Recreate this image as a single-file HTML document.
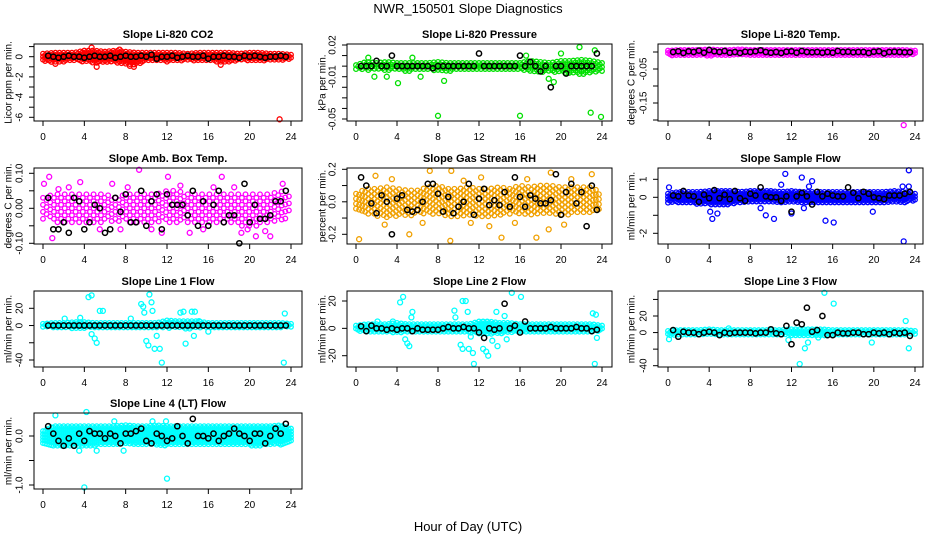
<!DOCTYPE html>
<html><head><meta charset="utf-8"><title>NWR_150501 Slope Diagnostics</title>
<style>
html,body{margin:0;padding:0;background:#fff;}
svg{display:block;font-family:"Liberation Sans",sans-serif;}
</style></head>
<body>
<svg id="chart" width="936" height="540" viewBox="0 0 936 540" xmlns="http://www.w3.org/2000/svg">
<rect x="0" y="0" width="936" height="540" fill="#fff"/>
<text x="468" y="13" text-anchor="middle" font-size="13">NWR_150501  Slope Diagnostics</text>
<text x="468" y="531" text-anchor="middle" font-size="13">Hour of Day (UTC)</text>
</svg>
<script>
// ---------- data ----------
const xTicks = [0,4,8,12,16,20,24];

const co2Lo = [-0.4,-0.6,-0.5,-0.4,-0.5,-0.7,-0.6,-0.6,-0.8,-0.8,-0.4,-0.4,-0.5,-0.4,-0.4,-0.5,-0.4,-0.6,-0.5,-0.4,-0.4,-0.4,-0.4,-0.4,-0.3];
const co2Hi = [0.3,0.4,0.4,0.4,0.6,0.6,0.5,0.6,0.5,0.4,0.4,0.4,0.4,0.4,0.3,0.4,0.4,0.4,0.4,0.3,0.4,0.4,0.3,0.3,0.2];
const co2OutX = [4.7,5.2,8.8,17.2,22.9,1.2,7.4,8.4];
const co2OutY = [0.9,-1.0,-1.0,-0.8,-6.2,-0.7,0.7,-0.9];
const co2Black = [0.1,0,-0.1,0,0.1,0,0,-0.1,0,0.1, 0,0,0.1,-0.1,0,0.1,0,0,0.1,0, 0.2,-0.2,0,0,0.1,-0.1,0,0.1,0,0, 0.1,-0.2,0,0,0.1,0,0,-0.1,0.1,0, 0.1,0,-0.1,0,0,0.1,0];

const pressLo = [-0.003,-0.004,-0.004,-0.004,-0.004,-0.005,-0.004,-0.004,-0.005,-0.005,-0.003,-0.003,-0.004,-0.003,-0.003,-0.004,-0.004,-0.005,-0.006,-0.006,-0.006,-0.007,-0.008,-0.007,-0.005];
const pressHi = [0.001,0.004,0.003,0.004,0.003,0.003,0.003,0.003,0.004,0.003,0.003,0.003,0.003,0.003,0.003,0.003,0.003,0.005,0.004,0.003,0.005,0.005,0.006,0.005,0.003];
const pressOutX = [1.2,1.8,4.1,8.0,8.6,16.0,16.6,19.3,20.0,21.8,22.9,23.9,23.3,18.8,6.3,3.0,5.5];
const pressOutY = [0.008,-0.01,-0.016,-0.047,-0.014,-0.047,0.01,-0.015,0.012,0.018,-0.044,-0.048,0.015,-0.012,-0.01,-0.01,0.008];
const pressBlack = [0,0,0,0.005,0,0,0.01,0,0,0, 0,0,0,0,-0.002,0,0,0,0,0, 0,0,0,0.012,0,0,0,0,0,0, 0,0.01,0,0.004,0,-0.005,0,-0.02,0,0, -0.007,0,0,0,0,0,0.012];

const tempLo = [-0.01,-0.012,-0.012,-0.01,-0.012,-0.01,-0.01,-0.01,-0.012,-0.012,-0.01,-0.01,-0.01,-0.01,-0.01,-0.012,-0.01,-0.01,-0.01,-0.01,-0.01,-0.012,-0.012,-0.01,-0.008];
const tempHi = [0.004,0.006,0.006,0.006,0.008,0.006,0.006,0.008,0.006,0.006,0.006,0.006,0.006,0.006,0.006,0.006,0.006,0.006,0.006,0.006,0.006,0.006,0.006,0.006,0.004];
const tempOutX = [22.9];
const tempOutY = [-0.215];
const tempBlack = [0,0.002,-0.003,0.002,0,0.004,-0.002,0.006,0.002,0, 0.003,-0.002,0,-0.003,0.001,0,0.002,0.005,0,-0.002, 0,-0.003,0.001,0.002,-0.002,0.003,0,-0.001,0,-0.002, 0,-0.002,0.003,0,0.001,-0.001,0,0,-0.003,0.001, 0.002,-0.004,0,0.001,0,-0.001,-0.001];

const ambLo = [-0.03,-0.04,-0.04,-0.05,-0.04,-0.04,-0.04,-0.04,-0.04,-0.04,-0.04,-0.04,-0.04,-0.04,-0.04,-0.04,-0.04,-0.04,-0.04,-0.05,-0.05,-0.05,-0.04,-0.04,-0.02];
const ambHi = [0.03,0.04,0.04,0.04,0.04,0.04,0.04,0.03,0.04,0.04,0.04,0.04,0.05,0.05,0.04,0.04,0.04,0.04,0.04,0.04,0.04,0.04,0.04,0.05,0.03];
const ambOutX = [0.1,0.6,0.9,3.6,9.3,12.1,17.3,19.2,20.6,22.0,23.2,6.7,11.5,14.2,2.5,5.5,8.2,10.5,13.3,15.5,18.5,21.5,1.5,7.5,16.5,19.8];
const ambOutY = [0.07,0.09,-0.085,0.075,0.11,0.09,0.09,-0.07,-0.08,-0.08,0.07,0.07,-0.07,-0.07,0.06,-0.06,0.06,-0.06,0.065,-0.06,0.06,-0.065,0.055,-0.06,0.06,-0.06];
const ambBlack = [0.03,-0.06,-0.06,-0.04,-0.07,0.03,0.02,-0.06,-0.04,0.01, 0,-0.07,-0.06,0.03,-0.01,0.04,-0.04,-0.04,0.05,-0.05, 0.02,0.04,-0.06,0.04,0.01,0.01,0.01,-0.02,0.05,-0.05, 0.02,-0.05,0.01,0.05,-0.04,-0.02,-0.02,-0.1,0.07,-0.04, 0.01,-0.03,-0.03,-0.02,0.02,0.02,0.05];

const rhLo = [-0.06,-0.08,-0.09,-0.1,-0.09,-0.09,-0.08,-0.08,-0.08,-0.09,-0.09,-0.08,-0.09,-0.1,-0.09,-0.08,-0.08,-0.09,-0.08,-0.08,-0.08,-0.08,-0.07,-0.08,-0.05];
const rhHi = [0.05,0.08,0.08,0.09,0.08,0.07,0.07,0.09,0.1,0.08,0.08,0.09,0.08,0.08,0.09,0.08,0.1,0.09,0.1,0.1,0.09,0.09,0.09,0.09,0.05];
const rhOutX = [0.3,9.2,9.3,17.6,14.2,5.2,7.2,1.9,19.0,23.0,12.2,18.8,3.5,6.5,10.5,13.0,15.5,21.0,2.8,11.2,16.7,20.3];
const rhOutY = [-0.23,-0.24,0.19,-0.22,-0.22,-0.2,0.19,0.16,0.18,0.17,0.15,-0.17,0.14,-0.13,0.13,-0.15,-0.13,0.14,-0.14,-0.13,0.14,-0.14];
const rhBlack = [0.15,0.1,-0.01,-0.07,0.04,0,-0.2,0.02,0.04,-0.05, -0.06,-0.05,0,0.11,0.11,0.05,-0.06,0.03,-0.07,-0.03, 0,0.11,-0.08,0.02,0.08,-0.02,0.01,-0.02,0.06,-0.03, 0.15,0.03,-0.03,0.04,0.02,-0.01,-0.01,0.01,0.17,-0.08, 0.06,0.11,-0.01,0.06,-0.15,0.1,-0.05];

const sampleLo = [-0.3,-0.3,-0.3,-0.4,-0.4,-0.4,-0.4,-0.3,-0.3,-0.3,-0.3,-0.3,-0.3,-0.3,-0.3,-0.3,-0.3,-0.3,-0.3,-0.3,-0.3,-0.3,-0.3,-0.3,-0.2];
const sampleHi = [0.2,0.3,0.3,0.3,0.35,0.35,0.35,0.3,0.35,0.35,0.35,0.3,0.35,0.3,0.3,0.3,0.3,0.3,0.3,0.3,0.3,0.3,0.35,0.3,0.2];
const sampleOutX = [4.3,4.1,4.8,9.5,10.3,11.4,12.0,13.0,14.0,15.3,16.1,19.9,22.9,23.4,23.4,9.0,13.2,22.8,0.1,11.0,13.7];
const sampleOutY = [-1.2,-0.8,-0.9,-1.0,-1.2,1.3,-0.9,1.1,0.9,-1.3,-1.4,-0.8,-2.45,1.5,0.6,-0.6,-0.6,0.6,0.55,0.7,0.6];
const sampleBlack = [0.1,0.05,0.35,0.1,0.05,-0.25,0.15,-0.05,0.4,-0.05, 0.15,-0.1,0.35,-0.05,-0.2,0.2,0.1,0.55,0.05,0, 0,-0.2,0.05,-0.8,0.05,0.25,0.05,-0.4,0.3,0.05, 0.2,0.1,0.05,0.05,0.55,0.25,-0.05,0.3,0.2,0, -0.05,-0.1,0.1,0.1,0.1,0.2,0.3];

const line1Lo = [-2,-3,-3,-4,-3,-3,-3,-3,-3,-3,-3,-3,-3,-3,-4,-3,-3,-3,-3,-3,-3,-3,-3,-3,-2];
const line1Hi = [2,3,3,4,4,3,3,3,3,3,3,3,6,5,5,5,3,3,3,3,3,3,3,3,2];
const line1OutX = [4.4,4.7,4.7,5.0,5.2,5.5,5.8,3.6,9.5,9.7,9.8,10.0,10.2,10.5,10.6,10.8,10.3,11.0,11.3,11.5,13.3,13.6,13.8,14.4,14.7,14.6,15.1,16.0,23.3,23.4,8.5,2.1];
const line1OutY = [33,35,-10,-15,-20,17,17,9,25,22,15,-18,-23,27,17,-27,36,-12,-27,-43,15,16,-21,16,16,-12,5,-7,-43,14,8,8];
const line1Black = [0,0,0,0,0,0,0,0,0,0, 0,0,0,0,0,0,0,0,0,0, 0,0,0,0,0,0,0,0,0,0, 0,0,0,0,0,0,0,0,0,0, 0,0,0,0,0,0,0];

const line2Lo = [-2,-3,-3,-3,-3,-3,-3,-3,-3,-3,-3,-3,-4,-4,-4,-3,-3,-3,-3,-3,-3,-3,-3,-3,-2];
const line2Hi = [2,3,3,3,4,3,3,3,3,3,3,3,5,5,4,4,3,3,3,3,3,3,3,3,2];
const line2OutX = [4.3,4.6,4.8,5.0,5.2,5.5,5.4,9.6,9.7,10.2,10.4,10.7,10.9,10.4,11.0,11.2,11.4,11.5,12.4,12.7,12.9,13.3,13.7,13.8,14.5,14.7,15.2,16.1,23.1,23.4,23.3,23.5,3.6,2.1];
const line2OutY = [19,23,-8,-11,-13,12,8,13,8,-12,20,20,12,-15,-15,-6,-18,-26,-15,-17,-20,-9,12,-13,9,-8,26,23,11,10,-26,-7,5,5];
const line2Black = [1.5,-2,2,0,0,-1,0,-1,0,0, -2,0,-1,-1,-1,-1,0,1,0,0, 1,0,0,-3,-7,0,-1,0,18,0, 2,-3,5,0,0,0,0,1,0,0, 0,0,1,0,0,-2,-1];

const line3Lo = [-4,-3,-3,-3,-3,-3,-3,-3,-3,-3,-3,-3,-4,-5,-5,-5,-3,-3,-3,-3,-3,-3,-3,-3,-2];
const line3Hi = [2,3,3,3,4,3,3,3,3,3,3,3,4,4,4,4,3,3,3,3,3,3,3,3,2];
const line3OutX = [0.1,5.9,11.7,12.8,13.3,13.6,15.2,16.1,19.8,23.1,23.4,14.6];
const line3OutY = [-8,5,-9,-38,-19,-12,48,35,-12,14,-19,-6];
const line3Black = [3,-5,1,0,0,-2,0,1,0,-3, 0,-1,0,0,0,0,-1,0,0,4, -1,-2,8,-14,12,10,30,1,3,20, -3,-3,0,-1,-1,0,0,-2,-2,0, -1,0,-2,0,-1,0,-4];

const line4Lo = [-0.15,-0.2,-0.2,-0.2,-0.2,-0.2,-0.18,-0.18,-0.18,-0.18,-0.18,-0.18,-0.2,-0.18,-0.18,-0.18,-0.18,-0.18,-0.18,-0.18,-0.2,-0.2,-0.18,-0.18,-0.15];
const line4Hi = [0.1,0.2,0.2,0.2,0.2,0.2,0.2,0.2,0.22,0.2,0.2,0.22,0.2,0.2,0.2,0.2,0.2,0.2,0.2,0.2,0.2,0.2,0.2,0.22,0.15];
const line4OutX = [1.2,4.2,4.0,12.0,3.5,5.2,7.8,11.9,6.9,10.6];
const line4OutY = [0.42,0.49,-1.05,-0.87,-0.3,-0.3,-0.3,0.3,0.3,0.3];
const line4Black = [0.2,0.05,-0.1,-0.2,-0.05,-0.2,0.05,-0.1,0.1,0.05, 0.05,-0.05,0.05,0,-0.15,0.05,0.05,0.1,0.15,-0.1, -0.15,0.05,0,-0.1,-0.05,0.2,0,-0.15,0.35,0, 0,-0.05,0.05,-0.1,0,0.05,0.15,0.05,0,-0.1, 0.05,0.05,-0.15,0,0.15,0.05,0.25];

// ---------- layout ----------
const cols = [{l:34,r:302,x0:43,x24:291,yl:9},{l:347,r:612,x0:356,x24:602,yl:323},{l:658,r:923,x0:668,x24:915,yl:632}];
const rows = [{t:44,b:121},{t:168,b:244},{t:291,b:367},{t:413,b:489}];

const panels = [
 {name:'co2',title:'Slope Li-820 CO2',ylab:'Licor ppm per min.',c:0,r:0,col:'#ff0000',v1:0,p1:56.7,v2:-6,p2:117.3,
  ticks:[1,0,-1,-2,-3,-4,-5,-6],labels:['','0','','-2','','-4','','-6'],lo:co2Lo,hi:co2Hi,ox:co2OutX,oy:co2OutY,bk:co2Black,step:3,xs:0.2},
 {name:'pressure',title:'Slope Li-820 Pressure',ylab:'kPa per min.',c:1,r:0,col:'#00e000',v1:0.02,p1:45,v2:-0.05,p2:119,
  ticks:[0.02,0.01,0,-0.01,-0.02,-0.03,-0.04,-0.05],labels:['0.02','','','-0.01','','','','-0.05'],lo:pressLo,hi:pressHi,ox:pressOutX,oy:pressOutY,bk:pressBlack,step:4,xs:0.2},
 {name:'temp',title:'Slope Li-820 Temp.',ylab:'degrees C per min.',c:2,r:0,col:'#ff00ff',v1:0,p1:52,v2:-0.2,p2:120,
  ticks:[0,-0.05,-0.1,-0.15,-0.2],labels:['','-0.05','','-0.15',''],lo:tempLo,hi:tempHi,ox:tempOutX,oy:tempOutY,bk:tempBlack,step:2.5,xs:0.2},
 {name:'amb-box-temp',title:'Slope Amb. Box Temp.',ylab:'degrees C per min.',c:0,r:1,col:'#ff00ff',v1:0.1,p1:173.3,v2:-0.1,p2:243.3,
  ticks:[0.1,0.05,0,-0.05,-0.1],labels:['0.10','','0.00','','-0.10'],lo:ambLo,hi:ambHi,ox:ambOutX,oy:ambOutY,bk:ambBlack,step:7,xs:0.35},
 {name:'gas-stream-rh',title:'Slope Gas Stream RH',ylab:'percent per min.',c:1,r:1,col:'#f0a000',v1:0.2,p1:169.3,v2:-0.2,p2:234.3,
  ticks:[0.2,0.1,0,-0.1,-0.2],labels:['0.2','','0.0','','-0.2'],lo:rhLo,hi:rhHi,ox:rhOutX,oy:rhOutY,bk:rhBlack,step:5,xs:0.3},
 {name:'sample-flow',title:'Slope Sample Flow',ylab:'ml/min per min.',c:2,r:1,col:'#0000ff',v1:1,p1:179.3,v2:-2,p2:233.3,
  ticks:[1,0,-1,-2],labels:['1','0','','-2'],lo:sampleLo,hi:sampleHi,ox:sampleOutX,oy:sampleOutY,bk:sampleBlack,step:3,xs:0.2},
 {name:'line1-flow',title:'Slope Line 1 Flow',ylab:'ml/min per min.',c:0,r:2,col:'#00ffff',v1:20,p1:308.3,v2:-40,p2:360,
  ticks:[20,0,-20,-40],labels:['20','0','','-40'],lo:line1Lo,hi:line1Hi,ox:line1OutX,oy:line1OutY,bk:line1Black,step:3,xs:0.2},
 {name:'line2-flow',title:'Slope Line 2 Flow',ylab:'ml/min per min.',c:1,r:2,col:'#00ffff',v1:20,p1:301,v2:-20,p2:355.7,
  ticks:[20,0,-20],labels:['20','0','-20'],lo:line2Lo,hi:line2Hi,ox:line2OutX,oy:line2OutY,bk:line2Black,step:3,xs:0.2},
 {name:'line3-flow',title:'Slope Line 3 Flow',ylab:'ml/min per min.',c:2,r:2,col:'#00ffff',v1:20,p1:316,v2:-40,p2:365.7,
  ticks:[40,20,0,-20,-40],labels:['','20','0','','-40'],lo:line3Lo,hi:line3Hi,ox:line3OutX,oy:line3OutY,bk:line3Black,step:3,xs:0.2},
 {name:'line4-flow',title:'Slope Line 4 (LT) Flow',ylab:'ml/min per min.',c:0,r:3,col:'#00ffff',v1:0,p1:436,v2:-1,p2:485,
  ticks:[0,-0.5,-1],labels:['0.0','','-1.0'],lo:line4Lo,hi:line4Hi,ox:line4OutX,oy:line4OutY,bk:line4Black,step:3,xs:0.2}
];

const NS = 'http://www.w3.org/2000/svg';
const svg = document.getElementById('chart');
function mk(tag, attrs, parent){
  const e = document.createElementNS(NS, tag);
  for (const k in attrs) e.setAttribute(k, attrs[k]);
  parent.appendChild(e);
  return e;
}

panels.forEach(p => {
  const C = cols[p.c], R = rows[p.r];
  const xs = h => C.x0 + (C.x24 - C.x0) * h / 24;
  const ys = v => p.p1 + (p.p2 - p.p1) * (v - p.v1) / (p.v2 - p.v1);
  const g = mk('g', {}, svg);
  
  

  const t = mk('text', {x:(C.l+C.r)/2, y:R.t-6, 'text-anchor':'middle', 'font-size':'11', 'font-weight':'bold'}, g);
  t.textContent = p.title;
  
  

  const cy = (R.t + R.b) / 2;
  const yl = mk('text', {x:C.yl, y:cy, 'text-anchor':'middle', 'font-size':'10', transform:'rotate(-90 '+C.yl+' '+cy+')', 'dominant-baseline':'central'}, g);
  yl.textContent = p.ylab;
  
  

  const pts = mk('g', {fill:'none', 'stroke-width':'1.3'}, g);
  
  

  let n = 0;
  for (let hx = 0; hx <= 24; hx += p.xs) {
    const i = Math.min(23, Math.floor(hx)), f = hx - i;
    const lo = p.lo[i] + (p.lo[i+1] - p.lo[i]) * f;
    const hi = p.hi[i] + (p.hi[i+1] - p.hi[i]) * f;
    const yTop = ys(hi), yBot = ys(lo);
    const px = xs(hx);
    const off = (n++ % 2) * p.step / 2;
    for (let py = yTop + off; py <= yBot + 0.01; py += p.step) {
      const c = mk('circle', {cx:px.toFixed(1), cy:py.toFixed(1), r:'2.3', stroke:p.col}, pts);
      
      
    }
  }
  p.ox.forEach((h, k) => {
    const c = mk('circle', {cx:xs(h).toFixed(1), cy:ys(p.oy[k]).toFixed(1), r:'2.5', stroke:p.col}, pts);
    
    
  });
  p.bk.forEach((v, k) => {
    const h = 0.5 + 0.5 * k;
    const c = mk('circle', {cx:xs(h).toFixed(1), cy:ys(v).toFixed(1), r:'2.6', stroke:'#000', 'stroke-width':'1.5'}, pts);
    
    
  });

  const box = mk('rect', {x:C.l, y:R.t, width:C.r-C.l, height:R.b-R.t, fill:'none', stroke:'#000', 'stroke-width':'1'}, g);
  
  

  const xa = mk('g', {'font-size':'10'}, g);
  
  
  xTicks.forEach(v => {
    const x = xs(v);
    const ln = mk('line', {x1:x, x2:x, y1:R.b, y2:R.b+5, stroke:'#000'}, xa);
    
    
    const tx = mk('text', {x:x, y:R.b+19, 'text-anchor':'middle'}, xa);
    tx.textContent = v;
    
    
  });

  const ya = mk('g', {'font-size':'10'}, g);
  
  
  p.ticks.forEach((v, k) => {
    const y = ys(v);
    const ln = mk('line', {x1:C.l-5, x2:C.l, y1:y, y2:y, stroke:'#000'}, ya);
    
    
    if (p.labels[k]) {
      const lx = C.l - 14;
      const tx = mk('text', {x:lx, y:y, 'text-anchor':'middle', 'dominant-baseline':'central', transform:'rotate(-90 '+lx+' '+y+')'}, ya);
      tx.textContent = p.labels[k];
      
      
    }
  });
});
</script>
</body></html>
